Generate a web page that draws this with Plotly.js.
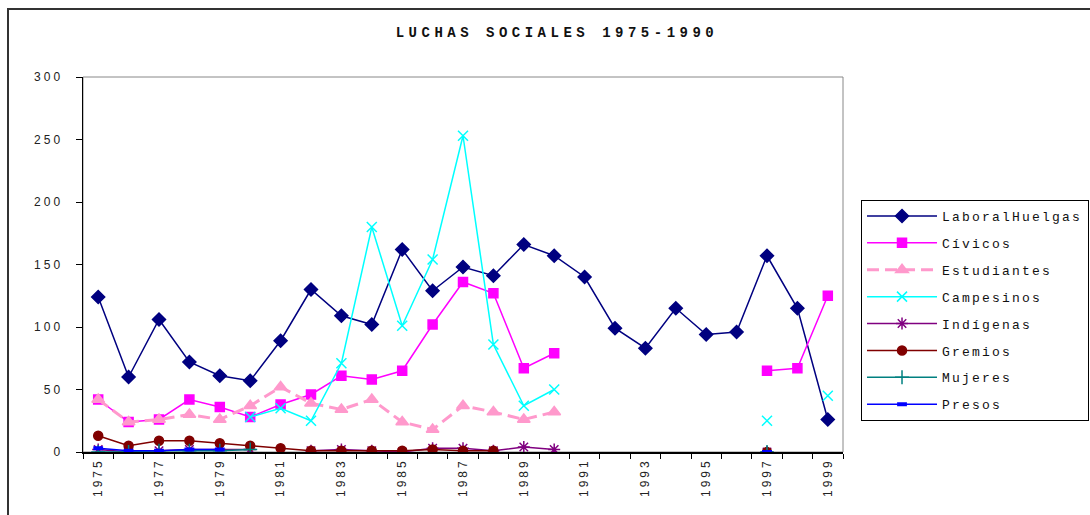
<!DOCTYPE html>
<html>
<head>
<meta charset="utf-8">
<script src="https://cdn.plot.ly/plotly-3.0.1.min.js"></script>
<style>
  html, body { margin: 0; padding: 0; background: #fff; }
  #wrap { position: relative; width: 1090px; height: 515px; overflow: hidden; }
  #frame { position: absolute; left: 7px; top: 8px; width: 1200px; height: 600px; border: 2px solid #333; box-sizing: border-box; }
  #chart { position: absolute; left: 0; top: 0; width: 1090px; height: 515px; }
  .legendtext { letter-spacing: 2.2px !important; }
  .gtitle { letter-spacing: 4.5px !important; }
</style>
</head>
<body>
<div id="wrap">
  <div id="frame"></div>
  <div id="chart"></div>
</div>
<script>
const years = [1975,1976,1977,1978,1979,1980,1981,1982,1983,1984,1985,1986,1987,1988,1989,1990,1991,1992,1993,1994,1995,1996,1997,1998,1999];
const laboralHuelgas = [124,60,106,72,61,57,89,130,109,102,162,129,148,141,166,157,140,99,83,115,94,96,157,115,26];
const civicos = [42,24,26,42,36,28,38,46,61,58,65,102,136,127,67,79,null,null,null,null,null,null,65,67,125];
const estudiantes = [42,24,26,30,26,37,52,39,34,42,24,18,37,32,26,32,null,null,null,null,null,null,null,null,null];
const campesinos = [null,null,null,null,null,28,35,25,71,180,101,154,253,86,37,50,null,null,null,null,null,null,25,null,45];
const indigenas = [2,0,1,2,2,2,null,1,2,1,0,3,3,1,4,2,null,null,null,null,null,null,0,null,null];
const gremios = [13,5,9,9,7,5,3,1,1,1,1,2,1,1,null,null,null,null,null,null,null,null,0,null,null];
const mujeres = [0,0,1,1,1,2,null,null,null,null,null,null,null,null,null,null,null,null,null,null,null,null,0,null,null];
const presos = [3,1,1,2,2,null,null,null,null,null,null,null,null,null,null,null,null,null,null,null,null,null,0,null,null];
const labelYears = [1975,1977,1979,1981,1983,1985,1987,1989,1991,1993,1995,1997,1999];
const yTicks = [0,50,100,150,200,250,300];

function tr(name, y, color, symbol, size, extra) {
  const t = {
    type: 'scatter', mode: 'lines+markers', name: name, x: years, y: y,
    connectgaps: false, legendgroup: name,
    line: { color: color, width: 1.5 },
    marker: { color: color, symbol: symbol, size: size, line: { color: color, width: 1.5 } }
  };
  if (extra) Object.assign(t, extra(t));
  return t;
}

const data = [
  tr('LaboralHuelgas', laboralHuelgas, '#000080', 'diamond', 10),
  tr('Cívicos', civicos, '#FF00FF', 'square', 9),
  tr('Estudiantes', estudiantes, '#FF99CC', 'triangle-up', 11, t => ({ line: { color: '#FF99CC', width: 3, dash: '12px,6px' } })),
  tr('Campesinos', campesinos, '#00FFFF', 'x-thin-open', 10),
  tr('Indígenas', indigenas, '#800080', 'asterisk-open', 10),
  tr('Gremios', gremios, '#800000', 'circle', 9),
  tr('Mujeres', mujeres, '#008080', 'cross-thin-open', 10),
  tr('Presos', presos, '#0000FF', 'line-ew-open', 7, t => ({ marker: { color: '#0000FF', symbol: 'line-ew-open', size: 7, line: { color: '#0000FF', width: 4 } } }))
];

const tickFont = { family: 'Liberation Sans, Arial, sans-serif', size: 12, color: '#222' };

const layout = {
  width: 1090, height: 515,
  margin: { l: 83, r: 247, t: 77, b: 63, pad: 0, autoexpand: false },
  paper_bgcolor: 'rgba(0,0,0,0)',
  plot_bgcolor: 'rgba(0,0,0,0)',
  title: {
    text: '<b>LUCHAS SOCIALES 1975-1990</b>',
    font: { family: 'Liberation Mono, Courier New, monospace', size: 14, color: '#111' },
    x: 0.511, xref: 'container', xanchor: 'center',
    y: 0.938, yref: 'container', yanchor: 'middle'
  },
  xaxis: {
    type: 'linear', range: [1974.5, 1999.5],
    tickmode: 'array', tickvals: labelYears, ticktext: labelYears.map(String),
    ticks: '', tickangle: -90, tickfont: tickFont,
    showgrid: false, zeroline: false, automargin: false,
    showline: true, linecolor: '#000', linewidth: 1.5,
    minor: { tickmode: 'linear', tick0: 1974.5, dtick: 1, ticks: 'outside', ticklen: 5, tickcolor: '#000', tickwidth: 1, showgrid: false }
  },
  yaxis: {
    range: [0, 300], tickmode: 'array', tickvals: yTicks, ticktext: yTicks.map(String),
    ticks: 'outside', ticklen: 6, tickcolor: '#000', tickwidth: 1,
    tickfont: tickFont, showgrid: false, zeroline: false, automargin: false,
    showline: true, linecolor: '#000', linewidth: 1.5, ticklabelstandoff: 10
  },
  shapes: [
    { type: 'rect', xref: 'paper', yref: 'paper', x0: 0, x1: 1, y0: 0, y1: 1, line: { color: '#888', width: 1 }, layer: 'below' }
  ],
  showlegend: true,
  legend: {
    x: 1.0237, xanchor: 'left', y: 0.672, yanchor: 'top',
    bgcolor: '#fff', bordercolor: '#000', borderwidth: 1,
    font: { family: 'Liberation Mono, Courier New, monospace', size: 13, color: '#111' },
    traceorder: 'grouped', tracegroupgap: 7, itemwidth: 70
  }
};

Plotly.newPlot('chart', data, layout, { displayModeBar: false, staticPlot: true }).then(gd => {
  gd.querySelectorAll('g.xtick text, g.ytick text').forEach(t => {
    t.style.setProperty('letter-spacing', '3px', 'important');
    t.setAttribute('letter-spacing', '3');
  });
});
</script>
</body>
</html>
